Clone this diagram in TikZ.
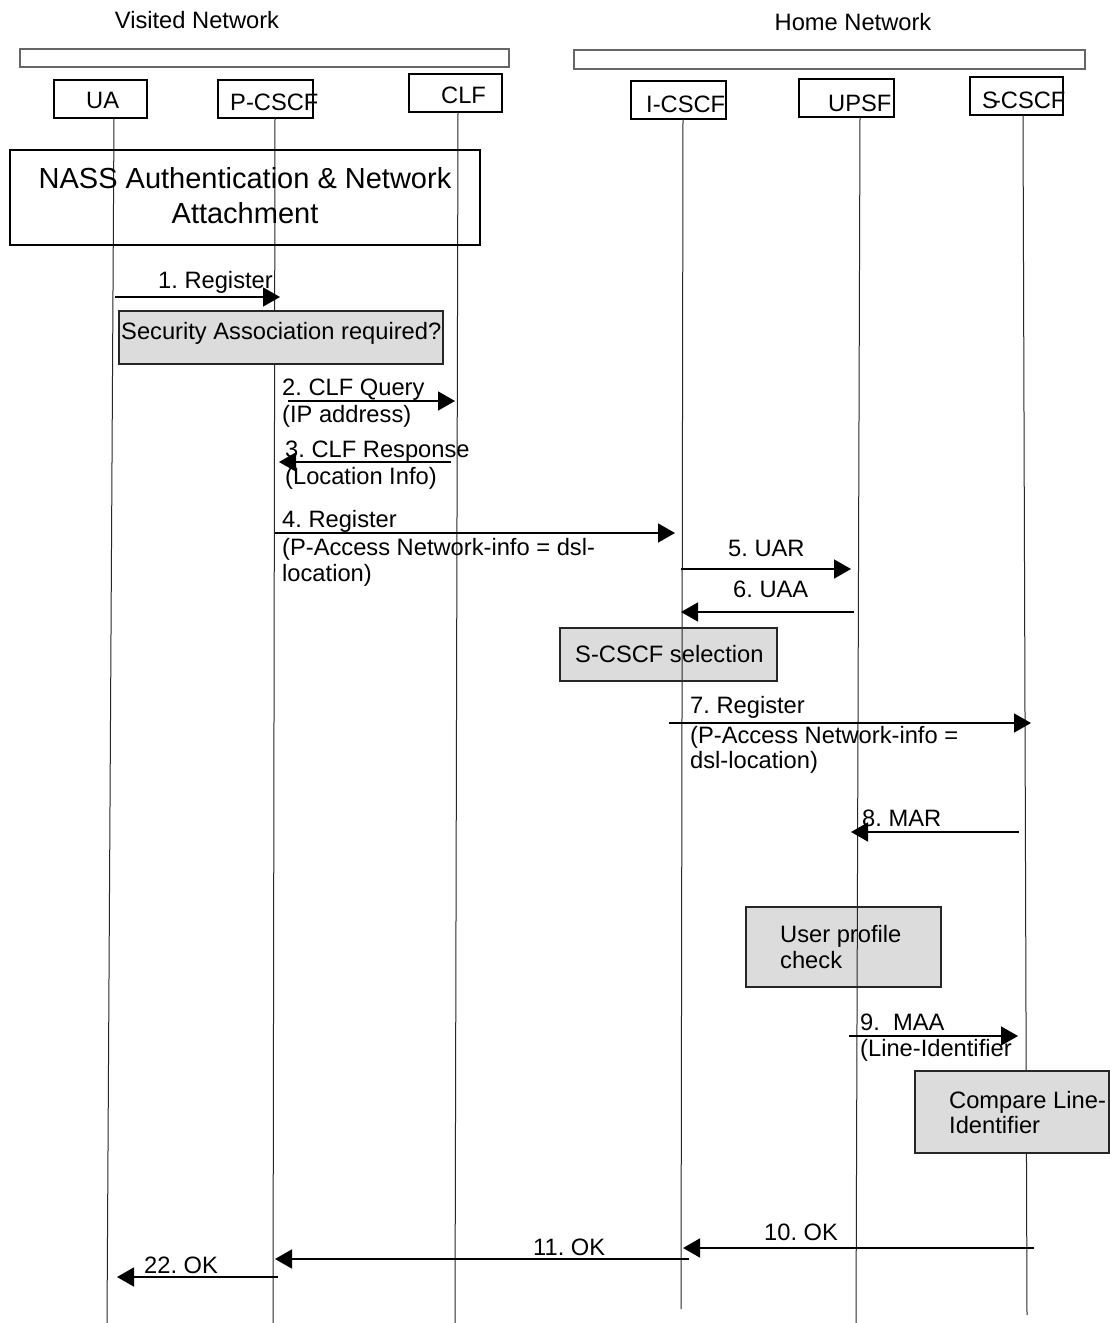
\documentclass[tikz,border=0pt]{standalone}
\usepackage{fontspec}
\setmainfont{Liberation Sans}
\usetikzlibrary{arrows.meta}
\definecolor{boxfill}{RGB}{220,220,220}
\frenchspacing
\begin{document}
\begin{tikzpicture}[x=1pt,y=-1pt,
  txt/.style={inner sep=0pt, anchor=base west, font=\fontsize{23.7}{27}\selectfont},
  ctxt/.style={txt, anchor=base},
  bigtxt/.style={inner sep=0pt, anchor=base, font=\fontsize{29}{35}\selectfont},
  bar/.style={draw=black!60, line width=1.2pt, fill=white},
  entity/.style={draw=black, line width=1.3pt, fill=white, inner sep=0pt, rectangle},
  life/.style={draw=black!85, line width=1pt},
  note/.style={draw=black!85, line width=1.3pt, fill=boxfill},
  msg/.style={draw=black, line width=1.6pt, -{Triangle[length=17pt,width=19pt]}}]
\useasboundingbox (0,0) rectangle (1109,1323);

% network domains
\node[ctxt] (visited) at (197,28) {Visited Network};
\node[ctxt] (home) at (853,30) {Home Network};
\draw[bar] (20,49) rectangle (509,67);
\draw[bar] (574,50) rectangle (1085,69);

% functional entities
\node[entity, minimum width=93, minimum height=38] (ua)    at (100.5,99) {};
\node[entity, minimum width=95, minimum height=38] (pcscf) at (265.5,99) {};
\node[entity, minimum width=93, minimum height=38] (clf)   at (455.5,93) {};
\node[entity, minimum width=95, minimum height=38] (icscf) at (678.5,100) {};
\node[entity, minimum width=95, minimum height=38] (upsf)  at (846.5,98) {};
\node[entity, minimum width=93, minimum height=38] (scscf) at (1016.5,96) {};
\node[txt] (uat)    at (86,108)  {UA};
\node[txt] (pcscft) at (230,110) {P-CSCF};
\node[txt] (clft)   at (441,103) {CLF};
\node[txt] (icscft) at (646,112) {I-CSCF};
\node[txt] (upsft)  at (828,111) {UPSF};
\node[txt] (scscft) at (982,108) {S\kern-5pt-CSCF};

% processing boxes that the lifelines cross
\node[note, minimum width=217, minimum height=53, inner sep=0pt] (sel) at (668.5,654.5) {};
\node[note, minimum width=195, minimum height=80, inner sep=0pt] (prof) at (843.5,947) {};

% lifelines
\coordinate (uaE)    at (107,1323);
\coordinate (pcscfE) at (273,1323);
\coordinate (clfE)   at (455,1323);
\coordinate (icscfE) at (681,1309);
\coordinate (upsfE)  at (856,1323);
\coordinate (scscfE) at (1027,1315);
\draw[life] (114,118) -- (uaE);
\draw[life] (275,118) -- (pcscfE);
\draw[life] (458,112) -- (clfE);
\draw[life] (683,119) -- (icscfE);
\draw[life] (860,117) -- (upsfE);
\draw[life] (1023,115) -- (scscfE);

% processing boxes drawn over the lifelines
\node[note, minimum width=324, minimum height=53, inner sep=0pt] (sec) at (281,337.5) {};
\node[note, minimum width=194, minimum height=82, inner sep=0pt] (cmp) at (1012,1112) {};

% NASS attachment frame
\draw[draw=black, line width=2pt] (10,150) rectangle (480,245);
\node[bigtxt] (nass1) at (245,188) {NASS Authentication \& Network};
\node[bigtxt] (nass2) at (245,223) {Attachment};

% box texts
\node[txt] (sect)  at (121,339) {Security Association required?};
\node[txt] (selt)  at (575,662) {S-CSCF selection};
\node[txt] (prof1) at (780,942) {User profile};
\node[txt] (prof2) at (780,968) {check};
\node[txt] (cmp1)  at (949,1108) {Compare Line-};
\node[txt] (cmp2)  at (949,1133) {Identifier};

% message labels
\node[txt] (l1)  at (158,288) {1. Register};
\node[txt] (l2a) at (282,395) {2. CLF Query};
\node[txt] (l2b) at (282,422) {(IP address)};
\node[txt] (l3a) at (285,457) {3. CLF Response};
\node[txt] (l3b) at (285,484) {(Location Info)};
\node[txt] (l4a) at (282,527) {4. Register};
\node[txt] (l4b) at (282,555) {(P-Access Network-info = dsl-};
\node[txt] (l4c) at (282,581) {location)};
\node[txt] (l5)  at (728,556) {5. UAR};
\node[txt] (l6)  at (733,597) {6. UAA};
\node[txt] (l7a) at (690,713) {7. Register};
\node[txt] (l7b) at (690,743) {(P-Access Network-info =};
\node[txt] (l7c) at (690,768) {dsl-location)};
\node[txt] (l8)  at (862,826) {8. MAR};
\node[txt] (l9a) at (860,1030) {9.\ \ MAA};
\node[txt] (l9b) at (860,1056) {(Line-Identifier};
\node[txt] (l10) at (764,1240) {10. OK};
\node[txt] (l11) at (533,1255) {11. OK};
\node[txt] (l22) at (144,1273) {22. OK};

% message end points
\coordinate (m1s) at (115,297);   \coordinate (m1e) at (280,297);
\coordinate (m2s) at (288,401);   \coordinate (m2e) at (455,401);
\coordinate (m3s) at (451,462);   \coordinate (m3e) at (279,462);
\coordinate (m4s) at (275,533);   \coordinate (m4e) at (675,533);
\coordinate (m5s) at (681,569);   \coordinate (m5e) at (851,569);
\coordinate (m6s) at (854,612);   \coordinate (m6e) at (681,612);
\coordinate (m7s) at (669,723);   \coordinate (m7e) at (1031,723);
\coordinate (m8s) at (1019,832);  \coordinate (m8e) at (851,832);
\coordinate (m9s) at (849,1036);  \coordinate (m9e) at (1018,1036);
\coordinate (m10s) at (1034,1248); \coordinate (m10e) at (683,1248);
\coordinate (m11s) at (689,1259);  \coordinate (m11e) at (275,1259);
\coordinate (m22s) at (278,1277);  \coordinate (m22e) at (117,1277);

% messages
\foreach \m in {1,2,3,4,5,6,7,8,9,10,11,22}
  \draw[msg] (m\m s) -- (m\m e);
\end{tikzpicture}
\end{document}
